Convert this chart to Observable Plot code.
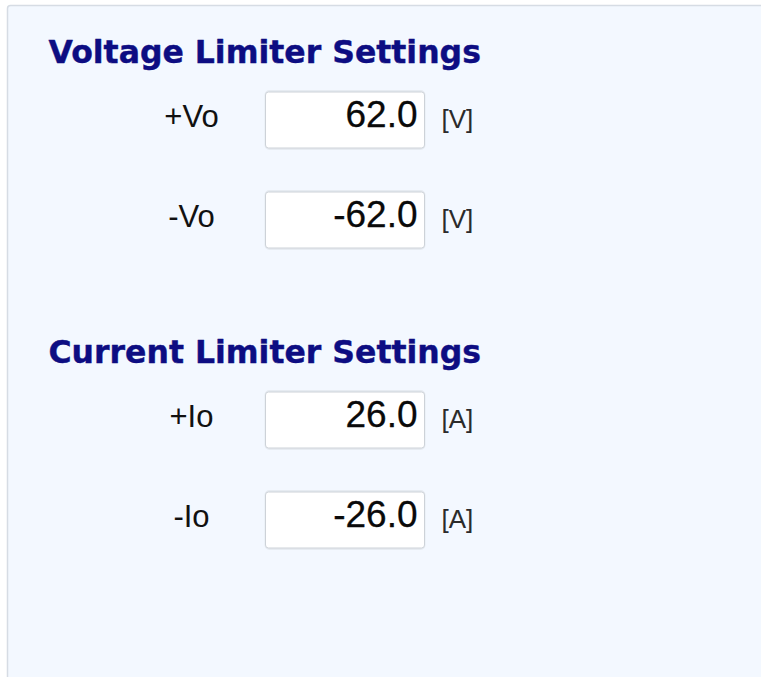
<!DOCTYPE html>
<html>
<head>
<meta charset="utf-8">
<script src="https://cdn.jsdelivr.net/npm/d3@7"></script>
<script src="https://cdn.jsdelivr.net/npm/@observablehq/plot@0.6"></script>
<style>
  html, body { margin: 0; padding: 0; background: #ffffff; }
  #chart svg { display: block; }
</style>
</head>
<body>
<div id="chart"></div>
<script>
// ---- data ----
const sections = ["Voltage Limiter Settings", "Current Limiter Settings"];
const labels = ["+Vo", "-Vo", "+Io", "-Io"];
const values = [62.0, -62.0, 26.0, -26.0];
const units = ["[V]", "[V]", "[A]", "[A]"];
const rowSection = [0, 0, 1, 1];

// ---- layout (in scale units) ----
const W = 761, H = 677;
const rowsPerSection = 3;            // two fields + one spacer row
const col = {heading: 48, label: 191, boxL: 265.5, boxR: 424.5, value: 417, unit: 441, panelL: 7.5};
const panelTop = -1.145, panelBottom = 5.565;
const headingOffset = -0.68;
const boxHalf = 0.28;

// build tables
const headingRows = sections.map((s, i) => ({text: s, slot: i * rowsPerSection + headingOffset}));
const fieldRows = labels.map((l, i) => {
  const sec = rowSection[i];
  const within = rowSection.slice(0, i).filter(d => d === sec).length;
  return {label: l, value: values[i], unit: units[i], slot: sec * rowsPerSection + within};
});

const chart = Plot.plot({
  width: W,
  height: H,
  margin: 0,
  x: {domain: [0, W], range: [0, W], axis: null},
  y: {domain: [-1.2, 5.57], range: [0, H], axis: null},
  style: {background: "#ffffff"},
  marks: [
    // panel
    Plot.rect([0], {
      x1: () => col.panelL, x2: () => W + 20,
      y1: () => panelTop, y2: () => panelBottom + 0.2,
      fill: "#f3f8ff", stroke: "#d6dce4", strokeWidth: 1.5, rx: 3
    }),
    // section headings
    Plot.text(headingRows, {
      x: () => col.heading, y: "slot", text: "text",
      textAnchor: "start", fontFamily: "DejaVu Sans", fontWeight: "bold",
      fontSize: 31.5, fill: "#0d0d82", stroke: "#0d0d82", strokeWidth: 0.4
    }),
    // field labels
    Plot.text(fieldRows, {
      x: () => col.label, y: "slot", text: "label",
      textAnchor: "middle", fontFamily: "Liberation Sans, Arial, sans-serif",
      fontSize: 31, fill: "#111111", dy: -3
    }),
    // input box shadows
    Plot.rect(fieldRows, {
      x1: () => col.boxL, x2: () => col.boxR,
      y1: d => d.slot - boxHalf - 0.01, y2: d => d.slot + boxHalf + 0.01,
      fill: "none", stroke: "#e6ebf1", strokeWidth: 2, rx: 4
    }),
    // input boxes
    Plot.rect(fieldRows, {
      x1: () => col.boxL, x2: () => col.boxR,
      y1: d => d.slot - boxHalf, y2: d => d.slot + boxHalf,
      fill: "#ffffff", stroke: "#cdd2d8", strokeWidth: 1, rx: 3
    }),
    // values
    Plot.text(fieldRows, {
      x: () => col.value, y: "slot", text: d => d.value.toFixed(1),
      textAnchor: "end", fontFamily: "Liberation Sans, Arial, sans-serif",
      fontSize: 37, fill: "#0a0a0a", stroke: "#0a0a0a", strokeWidth: 0.3, dy: -5
    }),
    // units
    Plot.text(fieldRows, {
      x: () => col.unit, y: "slot", text: "unit",
      textAnchor: "start", fontFamily: "Liberation Sans, Arial, sans-serif",
      fontSize: 26, fill: "#2b2b2b", dy: -1
    })
  ]
});
document.getElementById("chart").appendChild(chart);
</script>
</body>
</html>
